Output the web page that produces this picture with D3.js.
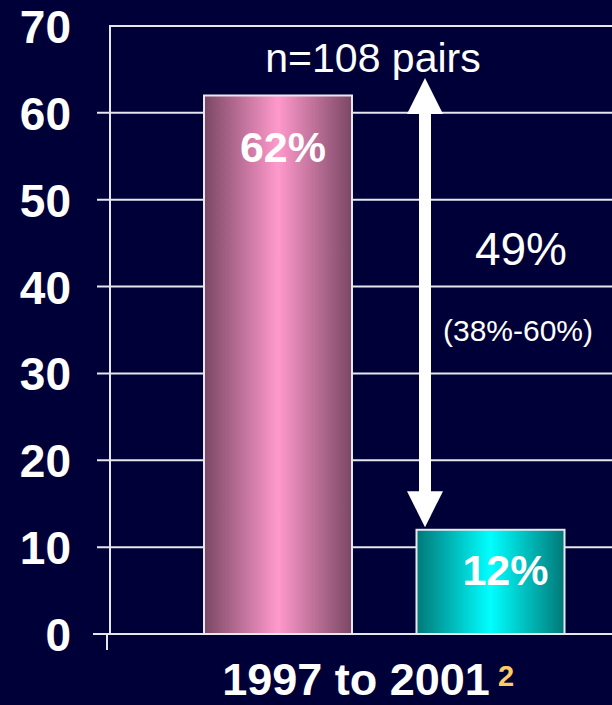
<!DOCTYPE html>
<html>
<head>
<meta charset="utf-8">
<script src="https://cdn.jsdelivr.net/npm/d3@7"></script>
<style>
  html, body { margin: 0; padding: 0; background: #000038; }
  svg { display: block; }
  text { font-family: "Liberation Sans", Arial, sans-serif; }
</style>
</head>
<body>
<script>
// Paired comparison, 1997 to 2001
const categories = ["1997", "2001"];
const values = [62, 12];
const valueLabels = ["62%", "12%"];
const yTicks = [0, 10, 20, 30, 40, 50, 60, 70];
const periodLabel = "1997 to 2001";
const footnote = "2";
const sampleLabel = "n=108 pairs";
const diffLabel = "49%";
const ciLabel = "(38%-60%)";
const arrowRange = [12.3, 64];

const W = 612, H = 705;
const svg = d3.select("body").append("svg").attr("width", W).attr("height", H);

svg.append("rect").attr("width", W).attr("height", H).attr("fill", "#000038");

const y = d3.scaleLinear().domain([0, 70]).range([634, 26]);
const x = d3.scalePoint().domain(categories).range([278, 490.5]);
const barW = 148;
const axisX = 110;

const defs = svg.append("defs");
const gradStops = [
  ["#7a4764", "#ff99cc"],
  ["#007878", "#00ffff"]
];
gradStops.forEach((c, i) => {
  const g = defs.append("linearGradient").attr("id", "bar" + i)
    .attr("x1", "0%").attr("x2", "100%").attr("y1", "0%").attr("y2", "0%");
  g.append("stop").attr("offset", "0%").attr("stop-color", c[0]);
  g.append("stop").attr("offset", "50%").attr("stop-color", c[1]);
  g.append("stop").attr("offset", "100%").attr("stop-color", c[0]);
});

// Horizontal gridlines with outward ticks
const grid = svg.append("g");
grid.selectAll("line").data(yTicks).join("line")
  .attr("x1", d => d === 70 ? axisX : (d === 0 ? 93 : 97))
  .attr("x2", W)
  .attr("y1", d => y(d)).attr("y2", d => y(d))
  .attr("stroke", "#e6e6ee").attr("stroke-width", 2);

// Vertical axis line
svg.append("line")
  .attr("x1", axisX).attr("x2", axisX)
  .attr("y1", y(70) - 1).attr("y2", y(0))
  .attr("stroke", "#e6e6ee").attr("stroke-width", 2);

// Category tick below the baseline
svg.append("line")
  .attr("x1", 107).attr("x2", 107)
  .attr("y1", y(0)).attr("y2", y(0) + 16)
  .attr("stroke", "#e6e6ee").attr("stroke-width", 2);

// Y tick labels
svg.append("g").selectAll("text").data(yTicks).join("text")
  .attr("x", 71).attr("y", d => y(d) + 17)
  .attr("text-anchor", "end")
  .attr("font-size", 46).attr("font-weight", "bold")
  .attr("fill", "#ffffff")
  .text(d => d);

// Bars
svg.append("g").selectAll("rect").data(values).join("rect")
  .attr("x", (d, i) => x(categories[i]) - barW / 2)
  .attr("y", d => y(d))
  .attr("width", barW)
  .attr("height", d => y(0) - y(d))
  .attr("fill", (d, i) => `url(#bar${i})`)
  .attr("stroke", "#e8e8ee").attr("stroke-width", 2);

// Value labels inside bars
const labelOffsets = [[5, 67], [15, 55]];
svg.append("g").selectAll("text").data(values).join("text")
  .attr("x", (d, i) => x(categories[i]) + labelOffsets[i][0])
  .attr("y", d => y(d))
  .attr("dy", (d, i) => labelOffsets[i][1])
  .attr("text-anchor", "middle")
  .attr("font-size", 43).attr("font-weight", "bold")
  .attr("fill", "#ffffff")
  .text((d, i) => valueLabels[i]);

// Double-headed arrow showing the reduction
const ax = 425, shaftW = 12, headW = 36, headH = 36;
const yTop = y(arrowRange[1]), yBot = y(arrowRange[0]);
const arrow = svg.append("g").attr("fill", "#ffffff");
arrow.append("rect")
  .attr("x", ax - shaftW / 2).attr("y", yTop + headH - 1)
  .attr("width", shaftW).attr("height", (yBot - headH) - (yTop + headH) + 2);
arrow.append("path")
  .attr("d", `M${ax},${yTop} L${ax + headW / 2},${yTop + headH} L${ax - headW / 2},${yTop + headH} Z`);
arrow.append("path")
  .attr("d", `M${ax},${yBot} L${ax + headW / 2},${yBot - headH} L${ax - headW / 2},${yBot - headH} Z`);

// Annotations
svg.append("text").attr("x", 373).attr("y", 72)
  .attr("text-anchor", "middle").attr("font-size", 41)
  .attr("fill", "#ffffff").text(sampleLabel);
svg.append("text").attr("x", 521).attr("y", 265)
  .attr("text-anchor", "middle").attr("font-size", 46)
  .attr("fill", "#ffffff").text(diffLabel);
svg.append("text").attr("x", 518).attr("y", 341)
  .attr("text-anchor", "middle").attr("font-size", 30)
  .attr("fill", "#ffffff").text(ciLabel);

// Period label with footnote marker
svg.append("text").attr("x", 356).attr("y", 695)
  .attr("text-anchor", "middle").attr("font-size", 45).attr("font-weight", "bold")
  .attr("fill", "#ffffff").text(periodLabel);
svg.append("text").attr("x", 498).attr("y", 686)
  .attr("font-size", 29).attr("font-weight", "bold")
  .attr("fill", "#ffcc66").text(footnote);
</script>
</body>
</html>
